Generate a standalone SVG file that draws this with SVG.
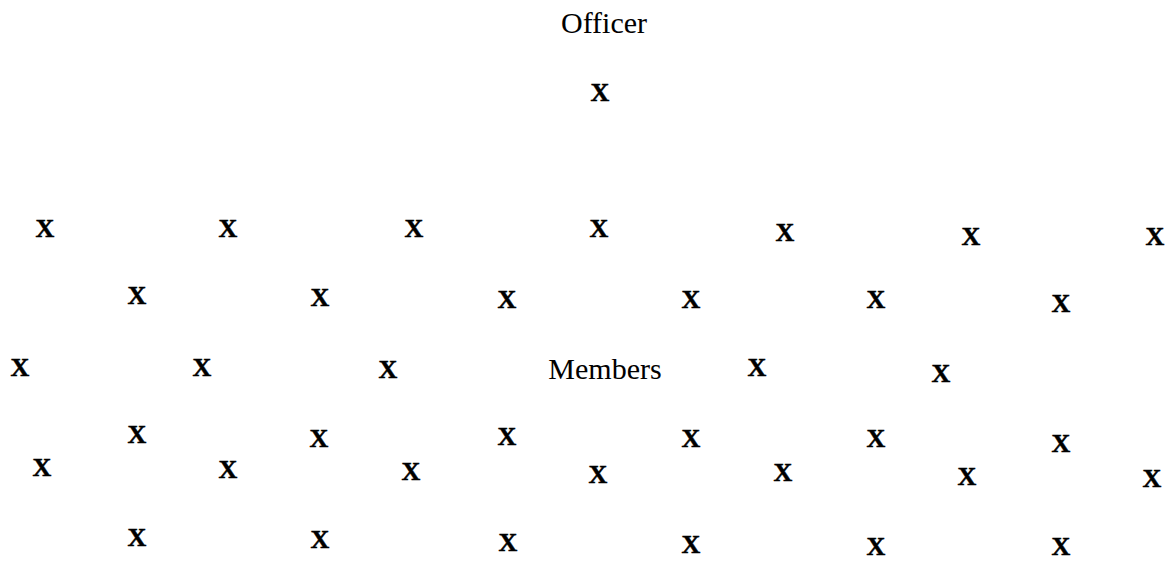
<svg xmlns="http://www.w3.org/2000/svg" width="1172" height="562" viewBox="0 0 1172 562">
<defs>
<style>
.lbl{font-family:'Liberation Serif','Times New Roman',Times,serif;font-size:30px;fill:#000;text-anchor:middle}
.x{font-family:'Liberation Serif','Times New Roman',Times,serif;font-size:26px;font-weight:700;fill:#000;stroke:#000;stroke-width:0.5;text-anchor:middle}
</style>
</defs>
<rect width="1172" height="562" fill="#fff"/>
<g id="labels">
<text class="lbl" x="604" y="33">Officer</text>
<text class="lbl" x="605" y="379">Members</text>
</g>
<g id="officer"><text class="x" x="600" y="101">X</text></g>
<g id="members">
<text class="x" x="45" y="237">X</text>
<text class="x" x="228" y="237">X</text>
<text class="x" x="414" y="237">X</text>
<text class="x" x="599" y="237">X</text>
<text class="x" x="785" y="241">X</text>
<text class="x" x="971" y="245">X</text>
<text class="x" x="1155" y="245">X</text>

<text class="x" x="137" y="304">X</text>
<text class="x" x="320" y="306">X</text>
<text class="x" x="507" y="308">X</text>
<text class="x" x="691" y="308">X</text>
<text class="x" x="876" y="308">X</text>
<text class="x" x="1061" y="312">X</text>

<text class="x" x="20" y="376">X</text>
<text class="x" x="202" y="376">X</text>
<text class="x" x="388" y="378">X</text>
<text class="x" x="757" y="376">X</text>
<text class="x" x="941" y="382">X</text>

<text class="x" x="137" y="443">X</text>
<text class="x" x="319" y="447">X</text>
<text class="x" x="507" y="445">X</text>
<text class="x" x="691" y="447">X</text>
<text class="x" x="876" y="447">X</text>
<text class="x" x="1061" y="452">X</text>

<text class="x" x="42" y="476">X</text>
<text class="x" x="228" y="478">X</text>
<text class="x" x="411" y="480">X</text>
<text class="x" x="598" y="483">X</text>
<text class="x" x="783" y="481">X</text>
<text class="x" x="967" y="485">X</text>
<text class="x" x="1152" y="487">X</text>

<text class="x" x="137" y="546">X</text>
<text class="x" x="320" y="548">X</text>
<text class="x" x="508" y="551">X</text>
<text class="x" x="691" y="553">X</text>
<text class="x" x="876" y="555">X</text>
<text class="x" x="1061" y="555">X</text>
</g>
</svg>
